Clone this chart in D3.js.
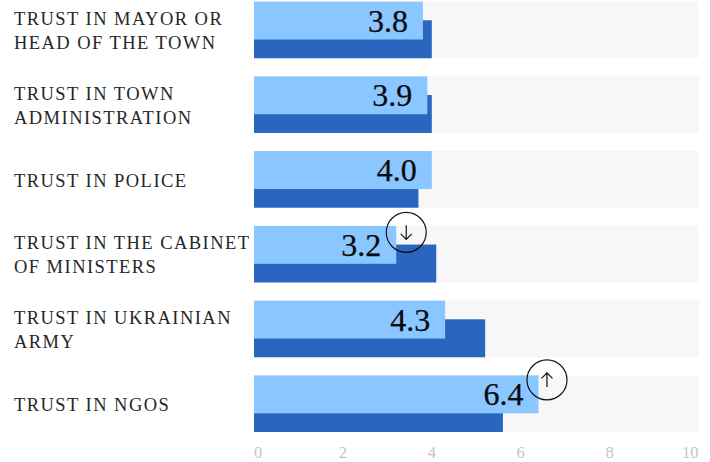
<!DOCTYPE html>
<html><head><meta charset="utf-8">
<script src="https://cdn.jsdelivr.net/npm/d3@7"></script>
<style>html,body{margin:0;background:#fff}svg{display:block}</style></head>
<body><svg id="c" width="710" height="462"></svg>
<script>
const labels=[["TRUST IN MAYOR OR","HEAD OF THE TOWN"],["TRUST IN TOWN","ADMINISTRATION"],["TRUST IN POLICE"],["TRUST IN THE CABINET","OF MINISTERS"],["TRUST IN UKRAINIAN","ARMY"],["TRUST IN NGOS"]];
const current=[3.8,3.9,4.0,3.2,4.3,6.4];
const previous=[4.0,4.0,3.7,4.1,5.2,5.6];
const changes=[null,null,null,"down",null,"up"];
const ticks=[0,2,4,6,8,10];
const font="'Liberation Serif',serif";
const svg=d3.select("#c");
const x=d3.scaleLinear().domain([0,10]).range([254,698.5]);
const y=d3.scaleBand().domain(d3.range(6)).range([1.6,432]).paddingInner(0.2426).paddingOuter(0);
const bh=y.bandwidth();
const rows=svg.selectAll("g.row").data(current).join("g").attr("class","row")
  .attr("transform",(d,i)=>`translate(0,${y(i)})`);
rows.append("rect").attr("x",x(0)).attr("width",x(10)-x(0)).attr("height",bh).attr("fill","#f7f7f7");
rows.append("rect").attr("x",x(0)).attr("y",bh*0.33).attr("width",(d,i)=>x(previous[i])-x(0)).attr("height",bh*0.67).attr("fill","#2a65c0");
rows.append("rect").attr("x",x(0)).attr("width",d=>x(d)-x(0)).attr("height",bh*0.67).attr("fill","#8ac6ff");
rows.append("text").attr("x",d=>x(d)-15).attr("y",bh*0.67-8).attr("text-anchor","end")
  .attr("font-family",font).attr("font-size",32).attr("fill","#0a0a0a")
  .attr("stroke","#0a0a0a").attr("stroke-width",0.25).text(d=>d.toFixed(1));
rows.each(function(d,i){
  const g=d3.select(this),l=labels[i],lh=24,base=bh/2+6-(l.length-1)*lh/2;
  l.forEach((s,j)=>g.append("text").attr("x",14).attr("y",base+j*lh+(l.length>1?1:1.5))
    .attr("font-family",font).attr("font-size",18.5).attr("letter-spacing",1.45).attr("fill","#262626").text(s));
  if(changes[i]){
    const cx=x(d)+(changes[i]==="down"?10:8.5),cy=changes[i]==="down"?6.5:4.5;
    g.append("circle").attr("cx",cx).attr("cy",cy).attr("r",20).attr("fill","none").attr("stroke","#111").attr("stroke-width",1.2);
    const s=changes[i]==="down"?1:-1;
    g.append("path").attr("fill","none").attr("stroke","#111").attr("stroke-width",1.2)
      .attr("d",`M${cx},${cy-7*s}V${cy+7*s}M${cx-5.5},${cy+1.5*s}L${cx},${cy+7*s}L${cx+5.5},${cy+1.5*s}`);
  }
});
svg.selectAll("text.tick").data(ticks).join("text").attr("class","tick")
  .attr("x",d=>x(d)).attr("y",458)
  .attr("text-anchor",d=>d===0?"start":d===10?"end":"middle")
  .attr("font-family",font).attr("font-size",16.5).attr("fill","#c4c4c4").text(d=>d);
</script></body></html>
